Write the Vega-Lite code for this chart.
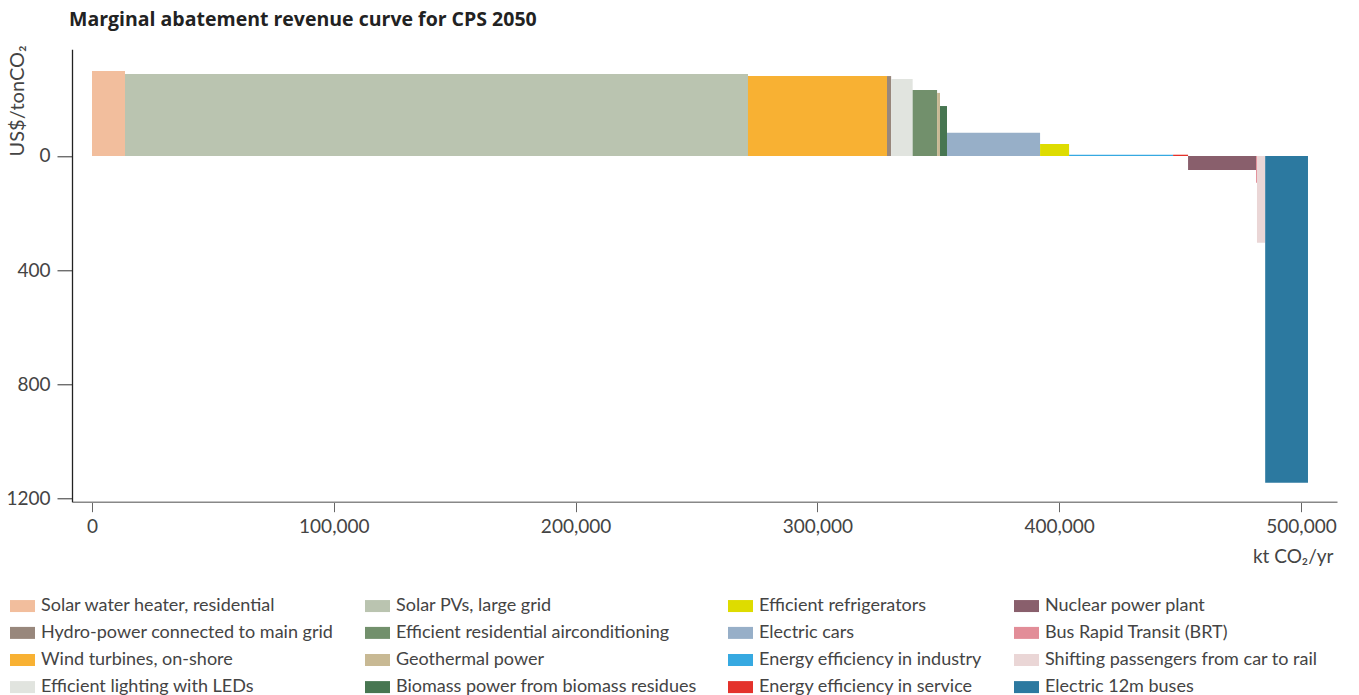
{
  "$schema": "https://vega.github.io/schema/vega-lite/v6.json",
  "autosize": "none",
  "width": 1265,
  "height": 452.4,
  "padding": {"left": 72, "top": 49.3, "right": 22, "bottom": 193.3},
  "background": "white",
  "title": {
    "text": "Marginal abatement revenue curve for CPS 2050",
    "anchor": "start",
    "frame": "group",
    "font": "Open Sans",
    "fontSize": 19.5,
    "fontWeight": "bold",
    "color": "#222222",
    "dx": -3,
    "offset": 14
  },
  "config": {
    "view": {"stroke": null},
    "axis": {"grid": false, "labelFont": "Lato", "titleFont": "Lato", "labelColor": "#444444", "titleColor": "#444444", "titleFontWeight": "normal"}
  },
  "data": {
    "values": [
      {"option": "Solar water heater, residential", "x0": 0, "x1": 13650, "cost": -298},
      {"option": "Solar PVs, large grid", "x0": 13650, "x1": 271300, "cost": -287},
      {"option": "Wind turbines, on-shore", "x0": 271300, "x1": 328800, "cost": -280},
      {"option": "Hydro-power connected to main grid", "x0": 328800, "x1": 330500, "cost": -280},
      {"option": "Efficient lighting with LEDs", "x0": 330500, "x1": 339400, "cost": -270},
      {"option": "Efficient residential airconditioning", "x0": 339400, "x1": 349500, "cost": -231},
      {"option": "Geothermal power", "x0": 349500, "x1": 350700, "cost": -221},
      {"option": "Biomass power from biomass residues", "x0": 350700, "x1": 353600, "cost": -175},
      {"option": "Electric cars", "x0": 353600, "x1": 392100, "cost": -81},
      {"option": "Efficient refrigerators", "x0": 392100, "x1": 404100, "cost": -42},
      {"option": "Energy efficiency in industry", "x0": 404100, "x1": 447100, "cost": -4.5},
      {"option": "Energy efficiency in service", "x0": 447100, "x1": 453300, "cost": -4.5},
      {"option": "Nuclear power plant", "x0": 453300, "x1": 481400, "cost": 49},
      {"option": "Bus Rapid Transit (BRT)", "x0": 481400, "x1": 481800, "cost": 93.5},
      {"option": "Shifting passengers from car to rail", "x0": 481800, "x1": 485200, "cost": 304},
      {"option": "Electric 12m buses", "x0": 485200, "x1": 502900, "cost": 1144}
    ]
  },
  "mark": {"type": "rect"},
  "encoding": {
    "x": {
      "field": "x0",
      "type": "quantitative",
      "scale": {"domain": [-8272, 514900], "nice": false, "zero": false},
      "axis": {
        "values": [0, 100000, 200000, 300000, 400000, 500000],
        "format": ",d",
        "title": "kt CO₂/yr",
        "titleFontSize": 19,
        "titleAlign": "right",
        "titleBaseline": "middle",
        "titleAnchor": "end",
        "titleX": 1261,
        "titleY": 55,
        "labelFontSize": 19,
        "labelPadding": 6,
        "tickSize": 10,
        "tickColor": "#666666",
        "domainColor": "#888888",
        "domainWidth": 1.5
      }
    },
    "x2": {"field": "x1"},
    "y": {
      "field": "cost",
      "type": "quantitative",
      "scale": {"domain": [-373.7, 1210.8], "reverse": true, "nice": false, "zero": false},
      "axis": {
        "values": [0, 400, 800, 1200],
        "format": "d",
        "title": "US$/tonCO₂",
        "titleFontSize": 20,
        "titleAngle": 270,
        "titleAlign": "left",
        "titleBaseline": "middle",
        "titleX": -55,
        "titleY": 106.7,
        "labelFontSize": 19,
        "labelPadding": 7,
        "tickSize": 15,
        "tickColor": "#333333",
        "domainColor": "#222222",
        "domainWidth": 1.3
      }
    },
    "y2": {"datum": 0},
    "color": {
      "field": "option",
      "type": "nominal",
      "scale": {
        "domain": [
          "Solar water heater, residential", "Hydro-power connected to main grid", "Wind turbines, on-shore", "Efficient lighting with LEDs",
          "Solar PVs, large grid", "Efficient residential airconditioning", "Geothermal power", "Biomass power from biomass residues",
          "Efficient refrigerators", "Electric cars", "Energy efficiency in industry", "Energy efficiency in service",
          "Nuclear power plant", "Bus Rapid Transit (BRT)", "Shifting passengers from car to rail", "Electric 12m buses"
        ],
        "range": [
          "#F2BE9D", "#98877C", "#F8B133", "#E1E4DF",
          "#BAC4B0", "#72906C", "#C8B994", "#477651",
          "#DEDC00", "#97AFC8", "#36A9E1", "#E4322B",
          "#895F6C", "#E28D98", "#EAD6D6", "#2C79A0"
        ]
      },
      "legend": {
        "title": null,
        "orient": "none",
        "legendX": -62,
        "legendY": 544,
        "columns": 4,
        "columnPadding": 31,
        "rowPadding": 5.1,
        "symbolType": "M-1,-0.48H1V0.48H-1Z",
        "symbolSize": 625,
        "symbolStrokeWidth": 0,
        "symbolOpacity": 1,
        "labelFont": "Lato",
        "labelFontSize": 18,
        "labelColor": "#444444",
        "labelOffset": 6,
        "labelLimit": 400
      }
    }
  }
}
